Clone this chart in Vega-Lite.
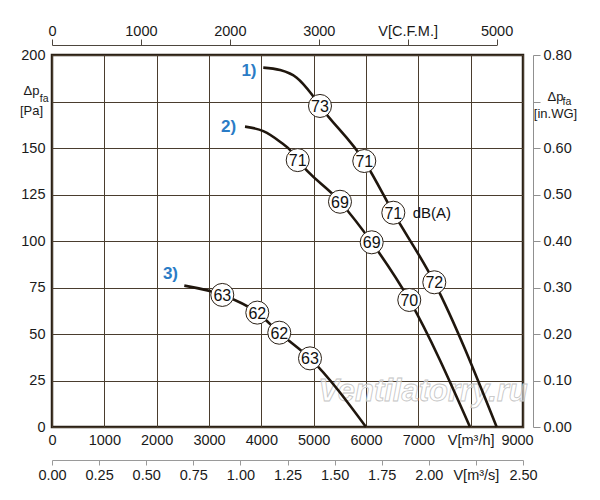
{
  "$schema": "https://vega.github.io/schema/vega-lite/v6.json",
  "width": 471,
  "height": 372,
  "autosize": {"type": "none"},
  "padding": {"left": 52, "top": 55, "right": 77, "bottom": 73},
  "background": "#ffffff",
  "config": {
    "font": "Liberation Sans",
    "view": {"stroke": "#2a2016", "strokeWidth": 2.5},
    "axis": {
      "labelFont": "Liberation Sans",
      "labelFontSize": 14.5,
      "labelColor": "#1a1a1a",
      "titleFont": "Liberation Sans",
      "titleColor": "#1a1a1a",
      "gridColor": "#4a3d2e",
      "gridOpacity": 1,
      "gridWidth": 1,
      "labelOverlap": false,
      "labelFlush": false
    }
  },
  "datasets": {
    "curves": [
      {"curve": "1", "q": 4037, "p": 193.2},
      {"curve": "1", "q": 4357, "p": 191.9},
      {"curve": "1", "q": 4676, "p": 187.8},
      {"curve": "1", "q": 4962, "p": 178.9},
      {"curve": "1", "q": 5121, "p": 172.6},
      {"curve": "1", "q": 5967, "p": 143.0},
      {"curve": "1", "q": 6522, "p": 115.2},
      {"curve": "1", "q": 7305, "p": 77.8},
      {"curve": "1", "q": 8497, "p": 0},
      {"curve": "2", "q": 3688, "p": 161.5},
      {"curve": "2", "q": 4037, "p": 159.1},
      {"curve": "2", "q": 4357, "p": 153.4},
      {"curve": "2", "q": 4580, "p": 148.0},
      {"curve": "2", "q": 4695, "p": 143.5},
      {"curve": "2", "q": 5503, "p": 121.1},
      {"curve": "2", "q": 6109, "p": 99.3},
      {"curve": "2", "q": 6827, "p": 68.3},
      {"curve": "2", "q": 7987, "p": 0},
      {"curve": "3", "q": 2528, "p": 76.0},
      {"curve": "3", "q": 3254, "p": 71.0},
      {"curve": "3", "q": 3923, "p": 61.5},
      {"curve": "3", "q": 4343, "p": 50.7},
      {"curve": "3", "q": 4930, "p": 36.9},
      {"curve": "3", "q": 6000, "p": 0}
    ],
    "levels": [
      {"curve": "1", "q": 5121, "p": 172.6, "db": "73"},
      {"curve": "1", "q": 5967, "p": 143.0, "db": "71"},
      {"curve": "1", "q": 6522, "p": 115.2, "db": "71"},
      {"curve": "1", "q": 7305, "p": 77.8, "db": "72"},
      {"curve": "2", "q": 4695, "p": 143.5, "db": "71"},
      {"curve": "2", "q": 5503, "p": 121.1, "db": "69"},
      {"curve": "2", "q": 6109, "p": 99.3, "db": "69"},
      {"curve": "2", "q": 6827, "p": 68.3, "db": "70"},
      {"curve": "3", "q": 3254, "p": 71.0, "db": "63"},
      {"curve": "3", "q": 3923, "p": 61.5, "db": "62"},
      {"curve": "3", "q": 4343, "p": 50.7, "db": "62"},
      {"curve": "3", "q": 4930, "p": 36.9, "db": "63"}
    ],
    "numbers": [
      {"q": 3764, "p": 191.6, "label": "1)"},
      {"q": 3373, "p": 161.5, "label": "2)"},
      {"q": 2264, "p": 82.3, "label": "3)"}
    ],
    "unit": [
      {"q": 6892, "p": 115.2, "label": "dB(A)"}
    ],
    "mark": [
      {"q": 7089, "p": 18.8, "label": "Ventilatorry.ru"}
    ]
  },
  "layer": [
    {
      "encoding": {
        "x": {
          "field": "q", "type": "quantitative",
          "scale": {"domain": [0, 9000], "nice": false, "zero": true},
          "axis": {
            "orient": "bottom",
            "values": [0, 1000, 2000, 3000, 4000, 5000, 6000, 7000, 8000, 9000],
            "format": "d",
            "labelExpr": "datum.value == 8000 ? 'V[m³/h]' : datum.label",
            "grid": true,
            "domain": false,
            "ticks": false,
            "tickSize": 0,
            "labelPadding": 6,
            "labelOffset": {"condition": {"test": "datum.value == 9000", "value": -6}, "value": 0},
            "title": null
          }
        },
        "y": {
          "field": "p", "type": "quantitative",
          "scale": {"domain": [0, 200], "nice": false, "zero": true},
          "axis": {
            "orient": "left",
            "values": [0, 25, 50, 75, 100, 125, 150, 175, 200],
            "format": "d",
            "labelExpr": "datum.value == 175 ? 'fa' : datum.label",
            "grid": true,
            "domain": false,
            "ticks": false,
            "tickSize": 0,
            "labelPadding": {"condition": {"test": "datum.value == 175", "value": 4}, "value": 7},
            "labelFontSize": {"condition": {"test": "datum.value == 175", "value": 10.5}, "value": 14.5},
            "labelOffset": {"condition": {"test": "datum.value == 175", "value": -3}, "value": 0},
            "title": ["Δp", "[Pa]"],
            "titleAngle": 0,
            "titleX": -21,
            "titleY": 39.5,
            "titleAlign": "center",
            "titleBaseline": "alphabetic",
            "titleLineHeight": 20,
            "titleFontSize": 13,
            "titleFontWeight": "normal"
          }
        }
      },
      "layer": [
        {
          "data": {"name": "mark"},
          "mark": {"type": "text", "fontSize": 31, "fontStyle": "italic", "fontWeight": "bold", "color": "#ffffff", "fillOpacity": 0.55, "stroke": "#c4c4c4", "strokeWidth": 0.8, "align": "center", "baseline": "middle"},
          "encoding": {"text": {"field": "label"}}
        },
        {
          "data": {"name": "curves"},
          "mark": {"type": "line", "color": "#1f160d", "strokeWidth": 2.6, "interpolate": "monotone"},
          "encoding": {"detail": {"field": "curve"}}
        },
        {
          "data": {"name": "levels"},
          "mark": {"type": "point", "shape": "circle", "filled": true, "fill": "#ffffff", "stroke": "#2a2016", "strokeWidth": 1, "size": 530, "opacity": 1},
          "encoding": {}
        },
        {
          "data": {"name": "levels"},
          "mark": {"type": "text", "fontSize": 16, "color": "#111111", "align": "center", "baseline": "middle", "dy": 1},
          "encoding": {"text": {"field": "db"}}
        },
        {
          "data": {"name": "numbers"},
          "mark": {"type": "text", "fontSize": 17, "fontWeight": "bold", "color": "#2b7cc6", "align": "center", "baseline": "middle"},
          "encoding": {"text": {"field": "label"}}
        },
        {
          "data": {"name": "unit"},
          "mark": {"type": "text", "fontSize": 15, "color": "#111111", "align": "left", "baseline": "middle"},
          "encoding": {"text": {"field": "label"}}
        }
      ]
    },
    {
      "data": {"values": [{}]},
      "mark": {"type": "rule", "opacity": 0},
      "encoding": {
        "x": {
          "datum": 0, "type": "quantitative",
          "scale": {"domain": [0, 5000], "range": [0, 444.6], "nice": false, "zero": true},
          "axis": {
            "orient": "top",
            "values": [0, 1000, 2000, 3000, 4000, 5000],
            "format": "d",
            "labelExpr": "datum.value == 4000 ? 'V[C.F.M.]' : datum.label",
            "offset": 10,
            "tickSize": 6,
            "labelPadding": 1,
            "domainColor": "#4d463e",
            "tickColor": "#4d463e",
            "grid": false,
            "title": null
          }
        }
      }
    },
    {
      "data": {"values": [{}]},
      "mark": {"type": "rule", "opacity": 0},
      "encoding": {
        "x": {
          "datum": 0, "type": "quantitative",
          "scale": {"domain": [0, 2.5], "nice": false, "zero": true},
          "axis": {
            "orient": "bottom",
            "values": [0, 0.25, 0.5, 0.75, 1, 1.25, 1.5, 1.75, 2, 2.25, 2.5],
            "format": ".2f",
            "labelExpr": "abs(datum.value - 2.25) < 1e-6 ? 'V[m³/s]' : datum.label",
            "offset": 33,
            "tickSize": 5,
            "labelPadding": 3,
            "domainColor": "#9a9a9a",
            "tickColor": "#9a9a9a",
            "grid": false,
            "title": null
          }
        }
      }
    },
    {
      "data": {"values": [{}]},
      "mark": {"type": "rule", "opacity": 0},
      "encoding": {
        "y": {
          "datum": 0, "type": "quantitative",
          "scale": {"domain": [0, 0.8], "nice": false, "zero": true},
          "axis": {
            "orient": "right",
            "values": [0, 0.1, 0.2, 0.3, 0.4, 0.5, 0.6, 0.7, 0.8],
            "format": ".2f",
            "labelExpr": "abs(datum.value - 0.7) < 1e-6 ? 'fa' : datum.label",
            "offset": 10,
            "tickSize": 7,
            "labelPadding": {"condition": {"test": "abs(datum.value - 0.7) < 1e-6", "value": 22}, "value": 3},
            "labelFontSize": {"condition": {"test": "abs(datum.value - 0.7) < 1e-6", "value": 10.5}, "value": 14.5},
            "labelOffset": {"condition": {"test": "abs(datum.value - 0.7) < 1e-6", "value": 0}, "value": 0},
            "domainColor": "#909090",
            "tickColor": "#909090",
            "grid": false,
            "title": ["Δp", "[in.WG]"],
            "titleAngle": 0,
            "titleX": 22,
            "titleY": 45,
            "titleAlign": "center",
            "titleBaseline": "alphabetic",
            "titleLineHeight": 17.5,
            "titleFontSize": 13,
            "titleFontWeight": "normal"
          }
        }
      }
    }
  ],
  "resolve": {"scale": {"x": "independent", "y": "independent"}}
}
